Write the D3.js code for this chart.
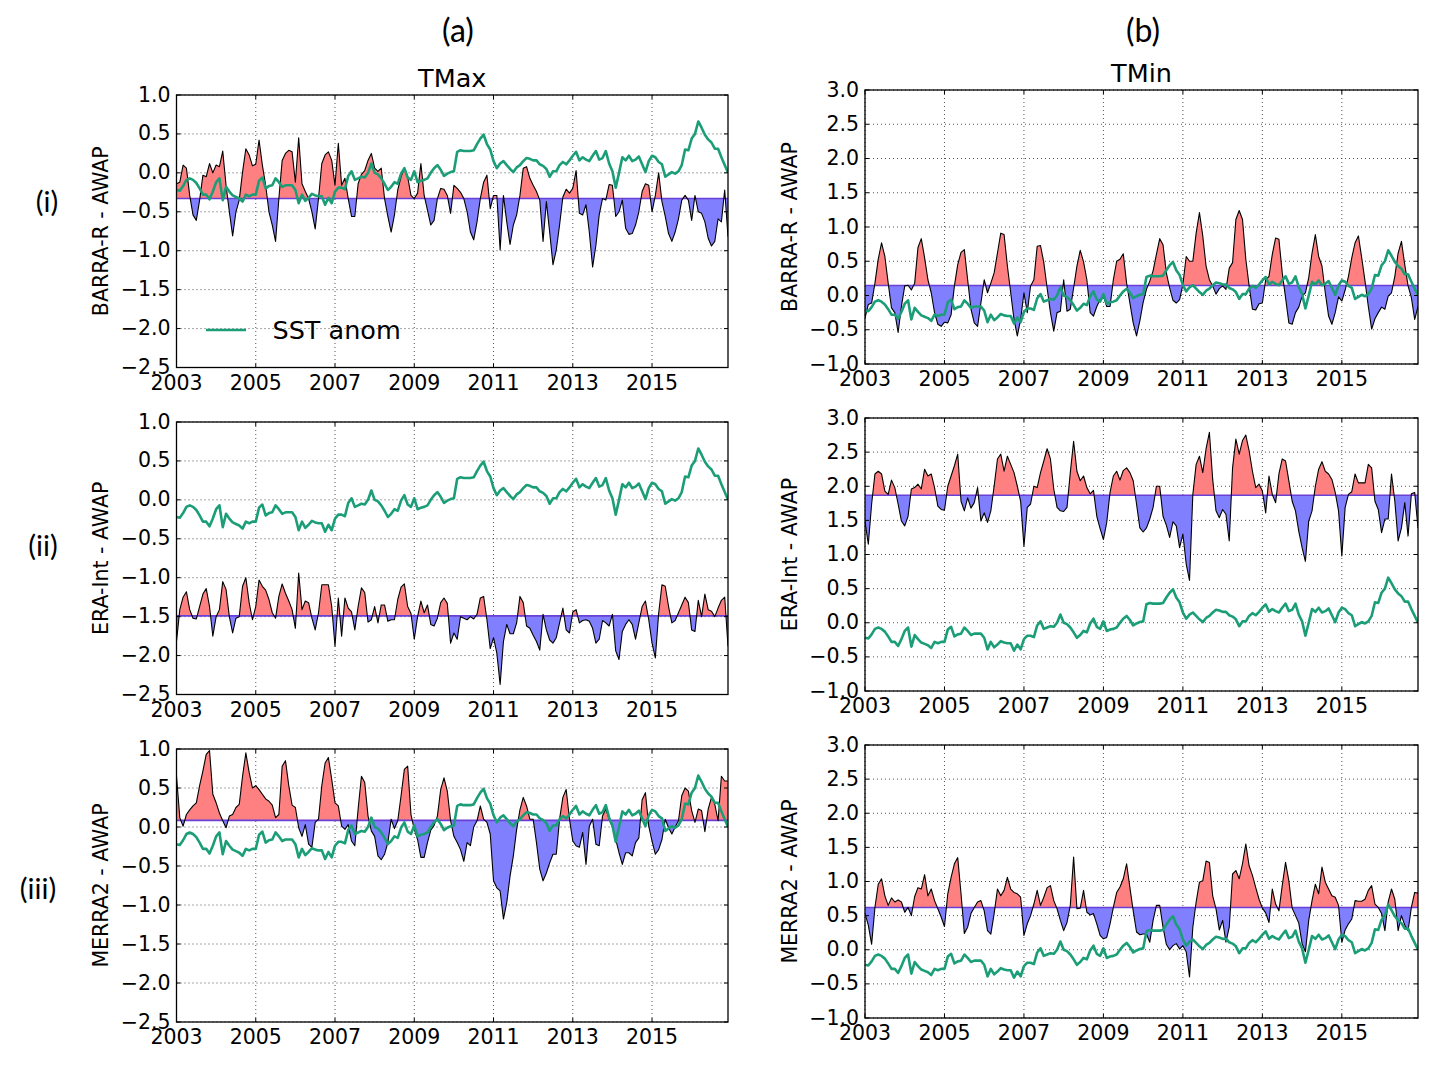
<!DOCTYPE html>
<html><head><meta charset="utf-8">
<script src="https://cdn.jsdelivr.net/npm/d3@7/dist/d3.min.js"></script>
<style>body{margin:0;background:#fff}svg{display:block}</style>
</head><body>
<svg id="chart" width="1438" height="1065"></svg>
<script>
// ---------------- data ----------------
const yearTickIndex = [0, 24, 48, 72, 96, 120, 144];
const yearTickLabels = ["2003", "2005", "2007", "2009", "2011", "2013", "2015"];
const tmaxTicks = [-2.5, -2.0, -1.5, -1.0, -0.5, 0.0, 0.5, 1.0];
const tminTicks = [-1.0, -0.5, 0.0, 0.5, 1.0, 1.5, 2.0, 2.5, 3.0];
const columnTitles = ["TMax", "TMin"];
const columnLetters = ["(a)", "(b)"];
const rowLetters = ["(i)", "(ii)", "(iii)"];
const rowLabels = ["BARRA-R - AWAP", "ERA-Int - AWAP", "MERRA2 - AWAP"];
const legendLabel = "SST anom";

const sstAnom = [
 -0.22,-0.23,-0.17,-0.09,-0.07,-0.09,-0.13,-0.20,-0.28,-0.28,-0.34,-0.24,
 -0.12,-0.07,-0.35,-0.18,-0.24,-0.29,-0.31,-0.33,-0.37,-0.28,-0.30,-0.28,
 -0.28,-0.10,-0.06,-0.20,-0.17,-0.16,-0.07,-0.12,-0.18,-0.16,-0.16,-0.16,
 -0.22,-0.39,-0.28,-0.36,-0.32,-0.27,-0.29,-0.30,-0.30,-0.41,-0.32,-0.39,
 -0.24,-0.19,-0.19,-0.21,-0.04,0.02,-0.09,-0.07,-0.05,-0.06,0.00,0.12,
 0.00,-0.02,-0.07,-0.14,-0.22,-0.18,-0.12,-0.14,-0.01,0.06,-0.06,-0.09,
 0.02,-0.12,-0.10,-0.09,-0.07,0.00,0.06,0.10,0.04,-0.04,-0.01,0.01,
 0.02,0.27,0.29,0.28,0.28,0.28,0.29,0.37,0.44,0.49,0.37,0.30,
 0.15,0.06,0.12,0.15,0.10,0.05,0.01,0.07,0.10,0.15,0.19,0.18,
 0.16,0.16,0.11,0.09,0.05,-0.05,0.02,0.02,0.10,0.14,0.11,0.16,
 0.22,0.27,0.16,0.20,0.17,0.15,0.22,0.28,0.17,0.19,0.28,0.12,
 0.02,-0.19,0.00,0.20,0.16,0.22,0.15,0.17,0.21,0.11,0.01,0.15,
 0.22,0.20,0.14,0.11,-0.05,-0.02,0.01,-0.01,0.02,0.10,0.30,0.29,
 0.44,0.50,0.66,0.58,0.49,0.43,0.39,0.31,0.31,0.20,0.10,0.00
];

const barraTmax = [
 -0.14,-0.12,0.10,0.06,-0.29,-0.54,-0.61,-0.35,-0.03,-0.05,0.12,0.00,
 0.10,0.08,0.28,-0.16,-0.50,-0.81,-0.50,-0.35,0.01,0.31,0.23,0.09,
 0.11,0.42,0.10,-0.16,-0.50,-0.67,-0.88,-0.33,0.16,0.25,0.29,0.27,
 -0.12,0.45,-0.14,-0.24,-0.33,-0.50,-0.72,-0.33,0.12,0.23,0.27,0.16,
 -0.16,0.38,-0.16,-0.07,-0.33,-0.56,-0.56,-0.14,-0.02,0.03,0.16,0.25,
 0.06,0.02,0.06,-0.33,-0.56,-0.76,-0.54,-0.22,-0.05,0.06,-0.05,-0.29,
 -0.33,-0.26,0.12,-0.29,-0.48,-0.67,-0.61,-0.33,-0.20,-0.21,-0.29,-0.52,
 -0.16,-0.20,-0.25,-0.33,-0.50,-0.76,-0.86,-0.63,-0.33,-0.12,-0.03,-0.46,
 -0.29,-0.29,-0.99,-0.29,-0.63,-0.92,-0.67,-0.54,-0.29,0.06,0.08,-0.07,
 -0.16,-0.24,-0.35,-0.88,-0.37,-0.76,-1.18,-0.99,-0.67,-0.31,-0.21,-0.26,
 -0.20,0.03,-0.52,-0.54,-0.41,-0.76,-1.21,-0.93,-0.54,-0.33,-0.35,-0.15,
 -0.16,-0.56,-0.50,-0.35,-0.71,-0.79,-0.78,-0.67,-0.50,-0.24,-0.14,-0.16,
 -0.50,-0.29,0.00,-0.37,-0.56,-0.78,-0.88,-0.76,-0.59,-0.35,-0.29,-0.35,
 -0.61,-0.29,-0.50,-0.52,-0.63,-0.84,-0.94,-0.88,-0.59,-0.63,-0.22,-0.82
];

const eraTmax = [
 -1.82,-1.41,-1.25,-1.18,-1.41,-1.52,-1.53,-1.37,-1.21,-1.14,-1.37,-1.75,
 -1.50,-1.41,-1.05,-1.15,-1.50,-1.71,-1.52,-1.50,-1.11,-1.00,-1.32,-1.54,
 -1.37,-1.03,-1.11,-1.16,-1.28,-1.45,-1.52,-1.24,-1.08,-1.20,-1.30,-1.41,
 -1.65,-0.94,-1.41,-1.30,-1.32,-1.52,-1.67,-1.45,-1.09,-1.09,-1.09,-1.37,
 -1.88,-1.26,-1.75,-1.26,-1.39,-1.44,-1.67,-1.37,-1.13,-1.19,-1.57,-1.54,
 -1.37,-1.58,-1.35,-1.35,-1.56,-1.54,-1.54,-1.28,-1.12,-1.08,-1.37,-1.46,
 -1.79,-1.50,-1.30,-1.45,-1.35,-1.60,-1.62,-1.52,-1.32,-1.26,-1.33,-1.84,
 -1.71,-1.79,-1.50,-1.52,-1.54,-1.50,-1.53,-1.47,-1.26,-1.24,-1.54,-1.91,
 -1.77,-1.97,-2.37,-1.82,-1.60,-1.72,-1.72,-1.58,-1.24,-1.32,-1.62,-1.65,
 -1.74,-1.82,-1.93,-1.47,-1.67,-1.80,-1.84,-1.77,-1.58,-1.39,-1.67,-1.71,
 -1.44,-1.41,-1.58,-1.55,-1.54,-1.56,-1.65,-1.84,-1.79,-1.55,-1.58,-1.62,
 -1.47,-1.94,-2.05,-1.69,-1.60,-1.54,-1.60,-1.79,-1.58,-1.37,-1.30,-1.54,
 -1.84,-2.03,-1.46,-1.09,-1.11,-1.37,-1.58,-1.55,-1.45,-1.35,-1.25,-1.32,
 -1.67,-1.69,-1.29,-1.50,-1.21,-1.41,-1.43,-1.50,-1.39,-1.29,-1.25,-1.88
];

const merraTmax = [
 0.65,0.12,0.01,0.16,0.22,0.27,0.31,0.53,0.72,0.93,0.98,0.42,
 0.31,0.18,0.08,-0.01,0.14,0.16,0.25,0.29,0.65,0.95,0.70,0.50,
 0.53,0.48,0.42,0.36,0.33,0.28,0.12,0.16,0.78,0.85,0.53,0.28,
 0.25,-0.01,-0.12,0.03,-0.22,-0.26,0.06,0.10,0.53,0.82,0.89,0.61,
 0.31,0.27,0.01,-0.03,0.03,-0.18,-0.24,0.23,0.65,0.57,0.14,-0.05,
 -0.12,-0.37,-0.42,-0.35,-0.20,0.10,-0.02,0.08,0.40,0.74,0.78,0.16,
 -0.03,-0.16,-0.39,-0.39,-0.20,-0.04,0.02,0.14,0.48,0.63,0.46,0.08,
 -0.12,-0.20,-0.29,-0.44,-0.20,-0.24,0.00,0.08,0.27,0.10,0.06,-0.09,
 -0.69,-0.78,-0.82,-1.18,-0.97,-0.63,-0.37,-0.03,0.22,0.38,0.27,0.10,
 0.10,-0.20,-0.54,-0.69,-0.59,-0.46,-0.35,-0.35,0.10,0.38,0.48,0.10,
 -0.18,-0.24,-0.26,-0.07,-0.48,0.01,0.10,-0.22,-0.24,0.14,0.23,0.10,
 0.00,-0.16,-0.33,-0.48,-0.33,-0.33,-0.37,-0.20,-0.14,0.35,0.44,0.01,
 -0.18,-0.35,-0.29,-0.16,0.10,-0.01,-0.09,0.00,0.08,0.40,0.50,0.46,
 0.21,0.06,0.23,0.21,-0.06,0.23,0.38,0.29,0.08,0.65,0.59,0.59
];

const barraTmin = [
 -0.33,-0.13,-0.11,0.18,0.53,0.77,0.57,0.18,-0.18,-0.25,-0.54,-0.16,
 0.14,0.15,0.08,0.18,0.70,0.83,0.55,0.23,0.04,-0.25,-0.42,-0.45,
 -0.39,-0.40,-0.28,0.14,0.45,0.63,0.67,0.23,-0.20,-0.40,-0.45,-0.11,
 0.23,0.04,0.18,0.33,0.62,0.91,0.89,0.43,0.04,-0.35,-0.59,-0.35,
 0.04,-0.25,0.14,0.23,0.72,0.73,0.48,0.11,-0.25,-0.52,-0.25,-0.23,
 0.23,-0.23,-0.20,0.11,0.43,0.66,0.49,0.23,-0.25,-0.30,-0.16,-0.06,
 -0.01,-0.16,-0.16,0.23,0.50,0.53,0.61,0.18,-0.11,-0.40,-0.59,-0.37,
 -0.10,0.09,0.21,0.36,0.60,0.83,0.74,0.33,0.11,-0.07,-0.11,-0.06,
 0.16,0.57,0.50,0.50,0.91,1.21,0.87,0.43,0.23,0.14,0.02,0.10,
 0.14,0.09,0.40,0.48,1.11,1.24,1.11,0.53,0.14,-0.20,-0.21,-0.12,
 -0.11,0.23,0.28,0.60,0.84,0.82,0.33,-0.03,-0.40,-0.42,-0.25,-0.17,
 -0.01,0.04,0.26,0.62,0.89,0.57,0.43,0.04,-0.30,-0.42,-0.25,-0.02,
 -0.08,0.08,0.28,0.55,0.77,0.87,0.55,0.21,-0.16,-0.49,-0.34,-0.25,
 -0.17,-0.20,-0.01,0.04,0.28,0.62,0.79,0.45,0.14,-0.03,-0.35,-0.16
];

const eraTmin = [
 1.49,1.15,1.74,2.18,2.22,2.18,1.93,1.88,2.09,1.98,1.74,1.49,
 1.42,1.56,1.96,1.98,2.03,1.96,2.25,2.15,2.18,1.98,1.71,1.66,
 1.65,2.00,2.15,2.30,2.47,1.78,1.64,1.83,1.68,1.76,1.98,1.49,
 1.61,1.47,1.64,2.00,2.40,2.47,2.22,2.44,2.32,2.20,2.00,1.78,
 1.12,1.69,1.74,2.00,1.98,2.20,2.37,2.55,2.40,1.96,1.69,1.64,
 1.63,1.69,2.20,2.66,2.22,2.08,2.15,1.98,1.89,1.94,1.56,1.38,
 1.22,1.47,1.91,2.15,2.22,2.09,2.23,2.27,2.20,2.08,1.74,1.39,
 1.33,1.39,1.52,1.69,2.00,2.00,1.56,1.43,1.25,1.48,1.42,1.10,
 1.30,0.86,0.62,1.88,2.32,2.44,2.20,2.55,2.79,2.10,1.64,1.54,
 1.66,1.59,1.20,2.27,2.69,2.47,2.67,2.75,2.52,2.22,1.98,2.03,
 1.93,1.61,2.15,1.88,1.76,2.18,2.40,2.37,2.08,1.78,1.64,1.34,
 1.10,0.90,1.49,1.64,2.00,2.25,2.36,2.22,2.18,2.10,1.91,1.64,
 0.98,1.69,1.88,1.92,2.18,2.05,2.05,2.05,2.32,2.27,1.78,1.66,
 1.32,1.52,1.52,2.18,1.78,1.20,1.39,1.76,1.27,1.89,1.91,1.39
];

const merraTmin = [
 0.53,0.36,0.08,0.62,0.96,1.04,0.79,0.65,0.76,0.70,0.73,0.70,
 0.55,0.62,0.50,0.78,0.91,0.89,1.10,0.79,0.89,0.72,0.60,0.48,
 0.34,0.82,1.06,1.26,1.35,0.82,0.24,0.33,0.53,0.62,0.70,0.72,
 0.57,0.28,0.23,0.53,0.89,0.79,0.87,1.06,0.89,0.84,0.82,0.77,
 0.21,0.38,0.50,0.67,0.87,0.65,0.77,0.91,0.94,0.72,0.60,0.43,
 0.28,0.40,0.65,1.36,0.60,0.61,0.87,0.55,0.51,0.53,0.38,0.21,
 0.16,0.18,0.38,0.62,0.84,0.92,1.04,1.26,0.91,0.57,0.26,0.22,
 0.23,0.23,0.11,0.43,0.65,0.65,0.33,0.08,0.00,0.06,0.09,0.01,
 0.06,-0.03,-0.40,0.33,0.70,0.99,1.01,1.30,1.28,0.79,0.60,0.29,
 0.43,0.11,0.33,1.11,1.16,1.04,1.26,1.55,1.23,1.09,0.91,0.74,
 0.61,0.54,0.40,0.89,0.67,0.57,0.94,1.28,1.01,0.61,0.50,0.39,
 0.09,-0.03,0.43,0.72,0.96,0.82,1.21,0.99,0.89,0.79,0.77,0.65,
 0.11,0.29,0.38,0.45,0.72,0.71,0.71,0.74,0.87,0.94,0.67,0.62,
 0.53,0.28,0.70,0.89,0.74,0.28,0.50,0.36,0.28,0.62,0.84,0.83
];

// reference (mean) level of each difference series, as drawn
const seriesMeans = [-0.33, -1.49, 0.085, 0.146, 1.868, 0.62];

// ---------------- layout ----------------
const panels = [
  {values: barraTmax, mean: seriesMeans[0], ticks: tmaxTicks, row: 0, col: 0, box: {l: 176.5, t: 95, r: 728, b: 367.5}},
  {values: eraTmax,   mean: seriesMeans[1], ticks: tmaxTicks, row: 1, col: 0, box: {l: 176.5, t: 422, r: 728, b: 694.5}},
  {values: merraTmax, mean: seriesMeans[2], ticks: tmaxTicks, row: 2, col: 0, box: {l: 176.5, t: 749, r: 728, b: 1022}},
  {values: barraTmin, mean: seriesMeans[3], ticks: tminTicks, row: 0, col: 1, box: {l: 865, t: 90, r: 1418, b: 364}},
  {values: eraTmin,   mean: seriesMeans[4], ticks: tminTicks, row: 1, col: 1, box: {l: 865, t: 418, r: 1418, b: 691}},
  {values: merraTmin, mean: seriesMeans[5], ticks: tminTicks, row: 2, col: 1, box: {l: 865, t: 745, r: 1418, b: 1018}}
];

const svg = d3.select("#chart");
svg.append("rect").attr("width", 1438).attr("height", 1065).attr("fill", "#fff");
const FONT = "'DejaVu Sans', sans-serif";
const LABELFONT = "Lato, 'Open Sans', sans-serif";
const RED = "#ff8080", BLUE = "#8080ff", GREEN = "#1b9e77";
const fmt = v => d3.format(".1f")(v).replace("-", "\u2212");

const defs = svg.append("defs");

panels.forEach((p, k) => {
  const bx = p.box;
  const x = d3.scaleLinear().domain([0, p.values.length - 1]).range([bx.l, bx.r]);
  const y = d3.scaleLinear().domain([p.ticks[0], p.ticks[p.ticks.length - 1]]).range([bx.b, bx.t]);
  const g = svg.append("g");

  defs.append("clipPath").attr("id", "clip" + k)
    .append("rect").attr("x", bx.l).attr("y", bx.t).attr("width", bx.r - bx.l).attr("height", bx.b - bx.t);

  // grid
  const grid = g.append("g").attr("stroke", "#000").attr("stroke-width", 0.8)
    .attr("stroke-dasharray", "1,3").attr("opacity", 0.85);
  yearTickIndex.forEach(t => grid.append("line").attr("x1", x(t)).attr("x2", x(t)).attr("y1", bx.t).attr("y2", bx.b));
  p.ticks.forEach(t => grid.append("line").attr("x1", bx.l).attr("x2", bx.r).attr("y1", y(t)).attr("y2", y(t)));

  // split series at crossings with mean
  const m = p.mean;
  const pts = [];
  p.values.forEach((v, i) => {
    pts.push({i: i, v: v});
    if (i < p.values.length - 1) {
      const w = p.values[i + 1];
      if ((v - m) * (w - m) < 0) {
        const t = (m - v) / (w - v);
        pts.push({i: i + t, v: m});
      }
    }
  });
  const plot = g.append("g").attr("clip-path", `url(#clip${k})`);
  const areaUp = d3.area().x(d => x(d.i)).y0(y(m)).y1(d => y(Math.max(d.v, m)));
  const areaDn = d3.area().x(d => x(d.i)).y0(y(m)).y1(d => y(Math.min(d.v, m)));
  plot.append("path").datum(pts).attr("d", areaUp).attr("fill", RED).attr("stroke", "none");
  plot.append("path").datum(pts).attr("d", areaDn).attr("fill", BLUE).attr("stroke", "none");
  plot.append("line").attr("x1", bx.l).attr("x2", bx.r).attr("y1", y(m)).attr("y2", y(m))
    .attr("stroke", "#6a3fd6").attr("stroke-width", 1.6);
  const line = d3.line().x((d, i) => x(i)).y(d => y(d));
  plot.append("path").datum(p.values).attr("d", line).attr("fill", "none")
    .attr("stroke", "#000").attr("stroke-width", 1.1).attr("stroke-linejoin", "round");
  plot.append("path").datum(sstAnom).attr("d", line).attr("fill", "none")
    .attr("stroke", GREEN).attr("stroke-width", 2.6).attr("stroke-linejoin", "round");

  // ticks (inward, all sides)
  const tk = g.append("g").attr("stroke", "#000").attr("stroke-width", 1);
  yearTickIndex.forEach(t => {
    tk.append("line").attr("x1", x(t)).attr("x2", x(t)).attr("y1", bx.b).attr("y2", bx.b - 4);
    tk.append("line").attr("x1", x(t)).attr("x2", x(t)).attr("y1", bx.t).attr("y2", bx.t + 4);
  });
  p.ticks.forEach(t => {
    tk.append("line").attr("x1", bx.l).attr("x2", bx.l + 4).attr("y1", y(t)).attr("y2", y(t));
    tk.append("line").attr("x1", bx.r).attr("x2", bx.r - 4).attr("y1", y(t)).attr("y2", y(t));
  });

  // spines
  g.append("rect").attr("x", bx.l).attr("y", bx.t).attr("width", bx.r - bx.l).attr("height", bx.b - bx.t)
    .attr("fill", "none").attr("stroke", "#000").attr("stroke-width", 1.3);

  // tick labels
  const tl = g.append("g").attr("font-family", FONT).attr("font-size", 20.5).attr("fill", "#000");
  yearTickIndex.forEach((t, j) => tl.append("text").attr("x", x(t)).attr("y", bx.b + 22)
    .attr("text-anchor", "middle").text(yearTickLabels[j]));
  p.ticks.forEach(t => tl.append("text").attr("x", bx.l - 6).attr("y", y(t) + 6.5)
    .attr("text-anchor", "end").text(fmt(t)));

  // y label
  const ylx = p.col === 0 ? 101 : 790;
  const ylc = (bx.t + bx.b) / 2;
  g.append("text").attr("transform", `translate(${ylx + 7},${ylc}) rotate(-90)`)
    .attr("text-anchor", "middle").attr("font-family", FONT).attr("font-size", 20.5)
    .text(rowLabels[p.row]);

  // column title
  if (p.row === 0) {
    g.append("text").attr("x", (bx.l + bx.r) / 2).attr("y", bx.t - 8.5)
      .attr("text-anchor", "middle").attr("font-family", FONT).attr("font-size", 25.5)
      .text(columnTitles[p.col]);
  }

  // legend
  if (k === 0) {
    const ly = y(-2.0) + 1.5;
    g.append("line").attr("x1", 206).attr("x2", 246).attr("y1", ly).attr("y2", ly)
      .attr("stroke", GREEN).attr("stroke-width", 2.6);
    g.append("text").attr("x", 272.5).attr("y", ly + 8.5).attr("font-family", FONT)
      .attr("font-size", 25.5).text(legendLabel);
  }
});

// panel letters
const letterX = [458, 1143];
columnLetters.forEach((t, j) => svg.append("text").attr("x", letterX[j]).attr("y", 42)
  .attr("text-anchor", "middle").attr("font-family", LABELFONT).attr("font-size", 32).text(t));
const rowLetterPos = [[47, 212], [43, 556], [38, 899]];
rowLetters.forEach((t, j) => svg.append("text").attr("x", rowLetterPos[j][0]).attr("y", rowLetterPos[j][1])
  .attr("text-anchor", "middle").attr("font-family", LABELFONT).attr("font-size", 29).text(t));
</script>
</body></html>
